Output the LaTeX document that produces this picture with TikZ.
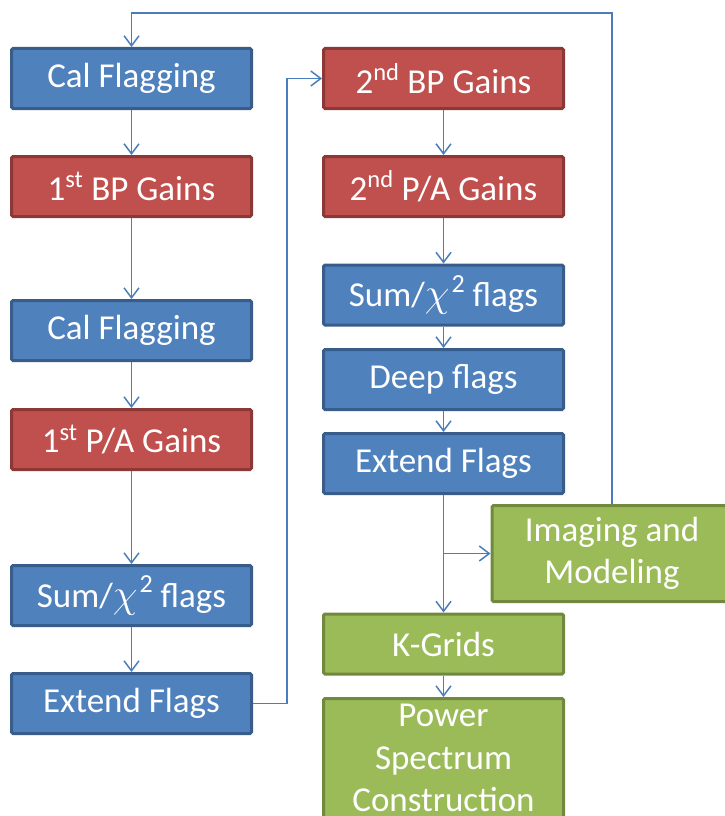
\documentclass[tikz,border=0pt]{standalone}
\usepackage{fix-cm}
\usepackage{fontspec}
\setmainfont{Carlito}
\usetikzlibrary{arrows.meta}

\definecolor{bluefill}{HTML}{4F81BD}
\definecolor{blueline}{HTML}{385D8A}
\definecolor{redfill}{HTML}{C0504D}
\definecolor{redline}{HTML}{8C3836}
\definecolor{greenfill}{HTML}{9BBB59}
\definecolor{greenline}{HTML}{71893F}
\definecolor{linkcol}{HTML}{4A7EBB}

% chi-squared with a large, text-like exponent
\newcommand{\chisq}{\scalebox{1.15}{$\chi$}\kern2pt\raisebox{0.42em}{\fontsize{26}{26}\selectfont 2}}

\tikzset{
  stage/.style={draw, line width=3pt, rounded corners=1.5pt, minimum width=240pt,
    minimum height=60pt, inner sep=0pt, text=white, align=center,
    font=\fontsize{35}{42.5}\selectfont},
  flagbox/.style={stage, fill=bluefill, draw=blueline},
  gainbox/.style={stage, fill=redfill, draw=redline},
  outbox/.style={stage, fill=greenfill, draw=greenline},
  link/.style={draw=linkcol, line width=1.5pt,
    -{Straight Barb[length=10pt,width=15pt,line width=1.5pt]}}
}

\begin{document}
\begin{tikzpicture}[x=1pt,y=-1pt]
\useasboundingbox (0,0) rectangle (725,816);

% left column
\node[flagbox] (calA) at (131.5,78.5) {Cal Flagging};
\node[gainbox] (bp1)  at (131.5,186.5) {1\textsuperscript{st} BP Gains};
\node[flagbox] (calB) at (131.5,330.5) {Cal Flagging};
\node[gainbox] (pa1)  at (131.5,439.5) {1\textsuperscript{st} P/A Gains};
\node[flagbox] (sumA) at (131.5,595.5) {Sum/\chisq{} flags};
\node[flagbox] (extA) at (131.5,703.5) {Extend Flags};

% right column
\node[gainbox] (bp2)  at (443.5,78.5) {2\textsuperscript{nd} BP Gains};
\node[gainbox] (pa2)  at (443.5,186.5) {2\textsuperscript{nd} P/A Gains};
\node[flagbox] (sumB) at (443.5,295) {Sum/\chisq{} flags};
\node[flagbox] (deep) at (443.5,379.5) {Deep flags};
\node[flagbox] (extB) at (443.5,463.5) {Extend Flags};
\node[outbox, minimum height=96pt] (img) at (612,553.5) {Imaging and\\Modeling};
\node[outbox] (kgrid) at (443.5,644) {K-Grids};
\node[outbox, minimum height=119pt] (power) at (443.5,758) {Power\\Spectrum\\Construction};

% routing points
\coordinate (top) at (0,13);
\coordinate (jog) at (287,0);

% left chain
\draw[link] (calA) -- (bp1);
\draw[link] (bp1) -- (calB);
\draw[link] (calB) -- (pa1);
\draw[link] (pa1) -- (sumA);
\draw[link] (sumA) -- (extA);

% hand-over to the second pass
\draw[link] (extA.east) -- (extA.east -| jog) -- (jog |- bp2.west) -- (bp2.west);

% right chain
\draw[link] (bp2) -- (pa2);
\draw[link] (pa2) -- (sumB);
\draw[link] (sumB) -- (deep);
\draw[link] (deep) -- (extB);
\draw[link] (extB) -- (kgrid);
\draw[link] (extB.south |- img.west) -- (img.west);
\draw[link] (kgrid) -- (power);

% feedback loop back to the start
\draw[link] (img.north) -- (img.north |- top) -- (calA.north |- top) -- (calA.north);
\end{tikzpicture}
\end{document}
